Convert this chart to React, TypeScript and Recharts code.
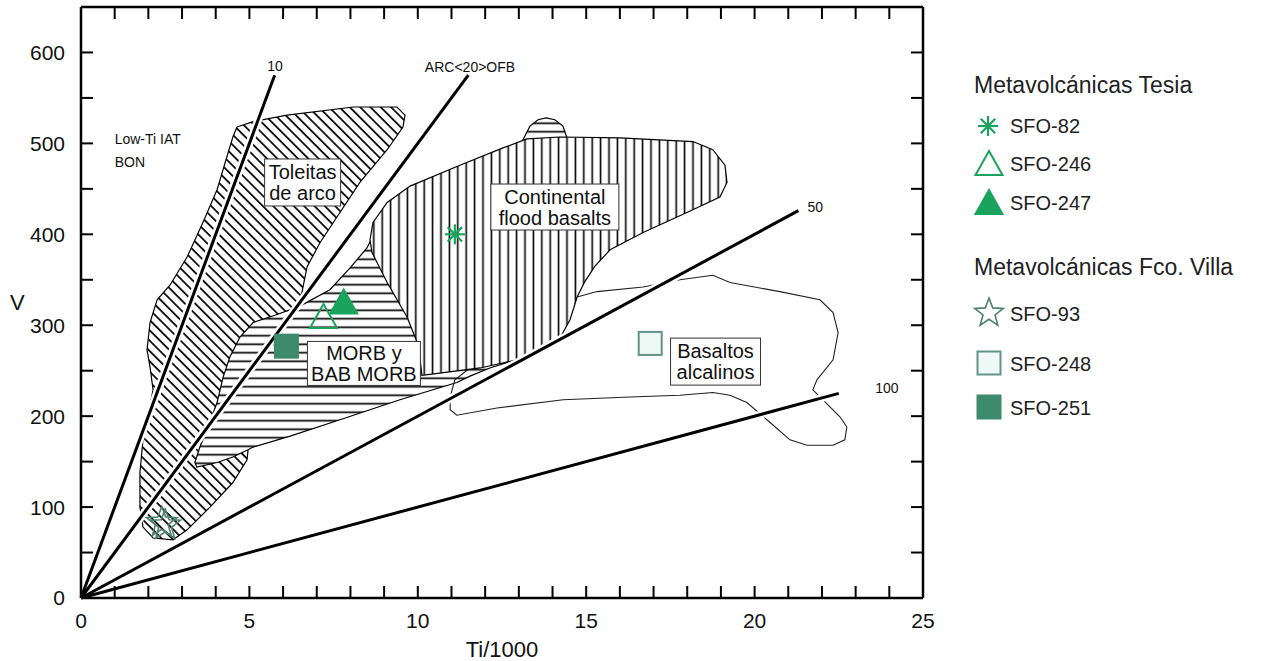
import React from 'react';
import { ScatterChart, Scatter, XAxis, YAxis } from 'recharts';

const FONT = '"Liberation Sans", Arial, Helvetica, sans-serif';

const xTicks = [0, 1, 2, 3, 4, 5, 6, 7, 8, 9, 10, 11, 12, 13, 14, 15, 16, 17, 18, 19, 20, 21, 22, 23, 24, 25];
const yTicks = [0, 50, 100, 150, 200, 250, 300, 350, 400, 450, 500, 550, 600];

// field outlines, Ti/1000 vs V
const toleitasField = [
  { x: 4.63, y: 518 }, { x: 5.11, y: 524 }, { x: 6.12, y: 531 }, { x: 8.08, y: 540 }, { x: 9.38, y: 540 },
  { x: 9.62, y: 531 }, { x: 9.56, y: 518 }, { x: 9.09, y: 493 }, { x: 8.28, y: 457 }, { x: 7.6, y: 419 },
  { x: 7.1, y: 391 }, { x: 6.71, y: 364 }, { x: 6.5, y: 325 }, { x: 5.91, y: 284 }, { x: 5.17, y: 196 },
  { x: 4.96, y: 163 }, { x: 4.93, y: 152 }, { x: 4.51, y: 127 }, { x: 3.83, y: 100 }, { x: 3.15, y: 75 },
  { x: 2.73, y: 64 }, { x: 2.14, y: 66 }, { x: 1.84, y: 78 }, { x: 1.75, y: 100 }, { x: 1.75, y: 138 },
  { x: 1.84, y: 174 }, { x: 2.14, y: 229 }, { x: 2.05, y: 254 }, { x: 1.96, y: 273 }, { x: 2.05, y: 303 },
  { x: 2.26, y: 328 }, { x: 2.64, y: 344 }, { x: 3.15, y: 375 }, { x: 3.62, y: 413 }, { x: 4.04, y: 449 },
  { x: 4.33, y: 485 }, { x: 4.51, y: 507 },
];

const morbField = [
  { x: 5.11, y: 303 }, { x: 5.76, y: 311 }, { x: 6.5, y: 321 }, { x: 7.39, y: 339 }, { x: 7.99, y: 363 },
  { x: 8.49, y: 385 }, { x: 8.64, y: 396 }, { x: 9.32, y: 427 }, { x: 11.25, y: 469 }, { x: 13.03, y: 497 },
  { x: 13.15, y: 506 }, { x: 13.33, y: 519 }, { x: 13.57, y: 526 }, { x: 13.81, y: 528 }, { x: 14.07, y: 526 },
  { x: 14.31, y: 519 }, { x: 14.43, y: 506 }, { x: 14.67, y: 482 }, { x: 14.82, y: 383 }, { x: 13.93, y: 306 },
  { x: 13.33, y: 267 }, { x: 12.14, y: 253 }, { x: 11.55, y: 244 }, { x: 11.16, y: 237 }, { x: 9.47, y: 218 },
  { x: 7.69, y: 196 }, { x: 6.21, y: 178 }, { x: 5.11, y: 166 }, { x: 4.96, y: 163 }, { x: 4.51, y: 155 },
  { x: 4.04, y: 149 }, { x: 3.44, y: 144 }, { x: 3.38, y: 149 }, { x: 3.53, y: 166 }, { x: 3.74, y: 185 },
  { x: 4.04, y: 215 }, { x: 4.22, y: 243 }, { x: 4.42, y: 265 }, { x: 4.72, y: 287 },
];

const cfbField = [
  { x: 8.58, y: 394 }, { x: 8.67, y: 413 }, { x: 9.09, y: 435 }, { x: 9.77, y: 453 }, { x: 11.25, y: 476 },
  { x: 12.53, y: 495 }, { x: 13.24, y: 505 }, { x: 14.22, y: 507 }, { x: 16.0, y: 506 }, { x: 18.17, y: 502 },
  { x: 18.76, y: 493 }, { x: 19.12, y: 476 }, { x: 19.18, y: 457 }, { x: 18.97, y: 441 }, { x: 17.99, y: 424 },
  { x: 16.69, y: 402 }, { x: 15.71, y: 383 }, { x: 15.26, y: 365 }, { x: 14.96, y: 348 }, { x: 14.73, y: 331 },
  { x: 14.52, y: 306 }, { x: 14.22, y: 286 }, { x: 13.84, y: 273 }, { x: 12.95, y: 262 }, { x: 11.85, y: 253 },
  { x: 10.36, y: 246 }, { x: 10.12, y: 245 }, { x: 10.07, y: 262 }, { x: 9.95, y: 284 }, { x: 9.68, y: 309 },
  { x: 9.09, y: 347 }, { x: 8.64, y: 380 },
];

const alcalinosField = [
  { x: 11.55, y: 253 }, { x: 12.74, y: 278 }, { x: 13.93, y: 308 }, { x: 14.73, y: 331 }, { x: 15.32, y: 337 },
  { x: 16.69, y: 342 }, { x: 17.78, y: 350 }, { x: 18.76, y: 355 }, { x: 19.27, y: 347 }, { x: 20.75, y: 337 },
  { x: 21.94, y: 328 }, { x: 22.33, y: 314 }, { x: 22.48, y: 292 }, { x: 22.33, y: 262 }, { x: 21.85, y: 240 },
  { x: 21.73, y: 229 }, { x: 22.03, y: 218 }, { x: 22.54, y: 199 }, { x: 22.74, y: 188 }, { x: 22.68, y: 174 },
  { x: 22.33, y: 168 }, { x: 21.56, y: 168 }, { x: 21.05, y: 174 }, { x: 20.46, y: 193 }, { x: 19.77, y: 215 },
  { x: 19.27, y: 223 }, { x: 18.76, y: 226 }, { x: 17.78, y: 223 }, { x: 16.3, y: 221 }, { x: 14.31, y: 218 },
  { x: 12.35, y: 209 }, { x: 11.16, y: 201 }, { x: 10.96, y: 207 }, { x: 10.96, y: 221 }, { x: 11.1, y: 240 },
];

// Ti/V ratio lines from the origin
const line10 = [{ x: 0, y: 0 }, { x: 5.75, y: 575 }];
const line20 = [{ x: 0, y: 0 }, { x: 11.5, y: 575 }];
const line50 = [{ x: 0, y: 0 }, { x: 21.3, y: 426 }];
const line100 = [{ x: 0, y: 0 }, { x: 22.5, y: 225 }];

// samples
const sfo82 = [{ x: 11.1, y: 400 }];
const sfo246 = [{ x: 7.2, y: 309 }];
const sfo247 = [{ x: 7.8, y: 325 }];
const sfo93 = [{ x: 2.4, y: 83 }, { x: 2.5, y: 80 }];
const sfo248 = [{ x: 16.9, y: 280 }];
const sfo251 = [{ x: 6.1, y: 277 }];

const fieldLabels = [
  { id: 'tol', x: 6.58, y: 457, text: ['Toleitas', 'de arco'] },
  { id: 'cfb', x: 14.07, y: 430, text: ['Continental', 'flood basalts'] },
  { id: 'morb', x: 8.4, y: 258, text: ['MORB y', 'BAB MORB'] },
  { id: 'alk', x: 18.84, y: 260, text: ['Basaltos', 'alcalinos'] },
];

const plainLabels = [
  { x: 5.76, y: 585, text: '10', anchor: 'middle' },
  { x: 11.55, y: 584, text: 'ARC<20>OFB', anchor: 'middle' },
  { x: 21.8, y: 430, text: '50', anchor: 'middle' },
  { x: 23.93, y: 231, text: '100', anchor: 'middle' },
  { x: 1.0, y: 505, text: 'Low-Ti IAT', anchor: 'start' },
  { x: 1.0, y: 480, text: 'BON', anchor: 'start' },
];

const BOX: Record<string, [number, number]> = {
  tol: [76, 47],
  cfb: [128, 46],
  morb: [113, 44],
  alk: [90, 47],
};

const TESIA = '#1aa35c';
const VILLA = '#4d8070';

const NoDot = () => <g />;

const Asterisk = ({ cx, cy, arm = 10 }: any) => {
  const d = arm * 0.72;
  return (
    <g stroke={TESIA} strokeWidth={2.2}>
      <line x1={cx - arm} y1={cy} x2={cx + arm} y2={cy} />
      <line x1={cx} y1={cy - arm} x2={cx} y2={cy + arm} />
      <line x1={cx - d} y1={cy - d} x2={cx + d} y2={cy + d} />
      <line x1={cx - d} y1={cy + d} x2={cx + d} y2={cy - d} />
    </g>
  );
};

const Triangle = ({ cx, cy, filled }: any) => (
  <polygon
    points={`${cx},${cy - 13} ${cx - 13.5},${cy + 11} ${cx + 13.5},${cy + 11}`}
    fill={filled ? TESIA : 'none'}
    stroke={TESIA}
    strokeWidth={2}
  />
);

const Star = ({ cx, cy, outer = 16 }: any) => {
  const pts: string[] = [];
  for (let i = 0; i < 10; i++) {
    const rr = i % 2 === 0 ? outer : outer * 0.42;
    const a = -Math.PI / 2 + (i * Math.PI) / 5;
    pts.push(`${cx + rr * Math.cos(a)},${cy + rr * Math.sin(a)}`);
  }
  return <polygon points={pts.join(' ')} fill="none" stroke={VILLA} strokeWidth={1.6} />;
};

const Square = ({ cx, cy, filled }: any) => (
  <rect
    x={cx - 11.5}
    y={cy - 11.5}
    width={23}
    height={23}
    fill={filled ? '#3e8a6f' : '#eef9f6'}
    stroke={filled ? '#3e8a6f' : '#62948a'}
    strokeWidth={2}
  />
);

const FieldLabel = ({ cx, cy, payload }: any) => {
  const [w, h] = BOX[payload.id];
  return (
    <g>
      <rect x={cx - w / 2} y={cy - h / 2} width={w} height={h} fill="#fff" stroke="#333" strokeWidth={1} />
      {payload.text.map((t: string, i: number) => (
        <text
          key={t}
          x={cx}
          y={cy + (i - 0.5) * 21}
          textAnchor="middle"
          dominantBaseline="central"
          fontFamily={FONT}
          fontSize={20}
          fill="#111"
        >
          {t}
        </text>
      ))}
    </g>
  );
};

const PlainLabel = ({ cx, cy, payload }: any) => (
  <text x={cx} y={cy} textAnchor={payload.anchor} dominantBaseline="central" fontFamily={FONT} fontSize={14} fill="#111">
    {payload.text}
  </text>
);

const Halo = (p: any) => {
  const [a, b] = p.points;
  const t = 0.12;
  return (
    <line
      x1={a.x + (b.x - a.x) * t}
      y1={a.y + (b.y - a.y) * t}
      x2={b.x}
      y2={b.y}
      stroke="#fff"
      strokeWidth={8}
    />
  );
};

const RatioLine = (p: any) => {
  const [a, b] = p.points;
  return <line x1={a.x} y1={a.y} x2={b.x} y2={b.y} stroke="#000" strokeWidth={3} />;
};

const tickFont = { fontFamily: FONT, fontSize: 21, fill: '#111' };

const LegendRow = ({ top, label, children }: any) => (
  <div style={{ position: 'absolute', left: 972, top, height: 32, display: 'flex', alignItems: 'center' }}>
    <svg width={34} height={32} style={{ overflow: 'visible' }}>
      {children}
    </svg>
    <span style={{ marginLeft: 4, fontFamily: FONT, fontSize: 20, color: '#222' }}>{label}</span>
  </div>
);

export default function App() {
  const polyProps = { stroke: '#000', strokeWidth: 1.2 };
  return (
    <div style={{ position: 'absolute', left: 0, top: 0, width: 1277, height: 661, background: '#fff' }}>
      <svg width={0} height={0} style={{ position: 'absolute' }}>
        <defs>
          <pattern id="hDiag" patternUnits="userSpaceOnUse" width={7.3} height={7.3} patternTransform="rotate(-45)">
            <rect width={7.3} height={7.3} fill="#fff" />
            <line x1={3.65} y1={0} x2={3.65} y2={7.3} stroke="#000" strokeWidth={1.7} />
          </pattern>
          <pattern id="hHor" patternUnits="userSpaceOnUse" width={8.5} height={8.5}>
            <rect width={8.5} height={8.5} fill="#fff" />
            <line x1={0} y1={4.25} x2={8.5} y2={4.25} stroke="#000" strokeWidth={1.7} />
          </pattern>
          <pattern id="hVer" patternUnits="userSpaceOnUse" width={8.4} height={8.4}>
            <rect width={8.4} height={8.4} fill="#fff" />
            <line x1={4.2} y1={0} x2={4.2} y2={8.4} stroke="#000" strokeWidth={1.6} />
          </pattern>
        </defs>
      </svg>

      <ScatterChart width={1277} height={661} margin={{ top: 5, right: 352, bottom: 23, left: 5 }}>
        <XAxis
          type="number"
          dataKey="x"
          domain={[0, 25]}
          ticks={xTicks}
          interval={0}
          height={40}
          tickSize={-12}
          tickMargin={27}
          tickFormatter={(v: number) => (v % 5 === 0 ? String(v) : '')}
          tick={tickFont}
          axisLine={{ stroke: '#000', strokeWidth: 2.5 }}
          tickLine={{ stroke: '#000', strokeWidth: 2 }}
          label={{ value: 'Ti/1000', position: 'bottom', offset: 3, style: { fontFamily: FONT, fontSize: 22, fill: '#111' } }}
        />
        <XAxis
          xAxisId="top"
          orientation="top"
          type="number"
          dataKey="x"
          domain={[0, 25]}
          ticks={xTicks}
          interval={0}
          height={2}
          tickSize={-12}
          tickFormatter={() => ''}
          axisLine={{ stroke: '#000', strokeWidth: 2.5 }}
          tickLine={{ stroke: '#000', strokeWidth: 2 }}
        />
        <YAxis
          type="number"
          dataKey="y"
          domain={[0, 650]}
          ticks={yTicks}
          interval={0}
          width={76}
          tickSize={-12}
          tickMargin={28}
          tickFormatter={(v: number) => (v % 100 === 0 ? String(v) : '')}
          tick={tickFont}
          axisLine={{ stroke: '#000', strokeWidth: 2.5 }}
          tickLine={{ stroke: '#000', strokeWidth: 2 }}
          label={{ value: 'V', position: 'insideLeft', offset: 5, style: { fontFamily: FONT, fontSize: 22, fill: '#111' } }}
        />
        <YAxis
          yAxisId="right"
          orientation="right"
          type="number"
          dataKey="y"
          domain={[0, 650]}
          ticks={yTicks}
          interval={0}
          width={2}
          tickSize={-12}
          tickFormatter={() => ''}
          axisLine={{ stroke: '#000', strokeWidth: 2.5 }}
          tickLine={{ stroke: '#000', strokeWidth: 2 }}
        />

        <Scatter data={toleitasField} line={{ ...polyProps, fill: 'url(#hDiag)' }} lineJointType="linearClosed" shape={NoDot} isAnimationActive={false} />
        <Scatter data={morbField} line={{ ...polyProps, fill: 'url(#hHor)' }} lineJointType="linearClosed" shape={NoDot} isAnimationActive={false} />
        <Scatter data={alcalinosField} line={{ stroke: '#222', strokeWidth: 1.1, fill: 'none' }} lineJointType="linearClosed" shape={NoDot} isAnimationActive={false} />
        <Scatter data={cfbField} line={{ ...polyProps, fill: 'url(#hVer)' }} lineJointType="linearClosed" shape={NoDot} isAnimationActive={false} />

        <Scatter data={line10} line={Halo} shape={NoDot} isAnimationActive={false} />
        <Scatter data={line20} line={Halo} shape={NoDot} isAnimationActive={false} />
        <Scatter data={line50} line={Halo} shape={NoDot} isAnimationActive={false} />
        <Scatter data={line100} line={Halo} shape={NoDot} isAnimationActive={false} />
        <Scatter data={line10} line={RatioLine} shape={NoDot} isAnimationActive={false} />
        <Scatter data={line20} line={RatioLine} shape={NoDot} isAnimationActive={false} />
        <Scatter data={line50} line={RatioLine} shape={NoDot} isAnimationActive={false} />
        <Scatter data={line100} line={RatioLine} shape={NoDot} isAnimationActive={false} />

        <Scatter xAxisId="top" yAxisId="right" data={fieldLabels} shape={FieldLabel} isAnimationActive={false} />
        <Scatter xAxisId="top" yAxisId="right" data={plainLabels} shape={PlainLabel} isAnimationActive={false} />

        <Scatter name="SFO-82" data={sfo82} shape={(p: any) => <Asterisk cx={p.cx} cy={p.cy} />} isAnimationActive={false} />
        <Scatter name="SFO-246" data={sfo246} shape={(p: any) => <Triangle cx={p.cx} cy={p.cy} />} isAnimationActive={false} />
        <Scatter name="SFO-247" data={sfo247} shape={(p: any) => <Triangle cx={p.cx} cy={p.cy} filled />} isAnimationActive={false} />
        <Scatter name="SFO-93" data={sfo93} shape={(p: any) => <Star cx={p.cx} cy={p.cy} />} isAnimationActive={false} />
        <Scatter name="SFO-248" data={sfo248} shape={(p: any) => <Square cx={p.cx} cy={p.cy} />} isAnimationActive={false} />
        <Scatter name="SFO-251" data={sfo251} shape={(p: any) => <Square cx={p.cx} cy={p.cy} filled />} isAnimationActive={false} />
      </ScatterChart>

      <div style={{ position: 'absolute', left: 974, top: 72, fontFamily: FONT, fontSize: 23, color: '#222', whiteSpace: 'nowrap' }}>
        Metavolcánicas Tesia
      </div>
      <LegendRow top={110} label="SFO-82">
        <Asterisk cx={16} cy={16} arm={10} />
      </LegendRow>
      <LegendRow top={148} label="SFO-246">
        <Triangle cx={17} cy={16} />
      </LegendRow>
      <LegendRow top={187} label="SFO-247">
        <Triangle cx={17} cy={16} filled />
      </LegendRow>
      <div style={{ position: 'absolute', left: 974, top: 254, fontFamily: FONT, fontSize: 23, color: '#222', whiteSpace: 'nowrap' }}>
        Metavolcánicas Fco. Villa
      </div>
      <LegendRow top={298} label="SFO-93">
        <Star cx={17} cy={15} outer={15} />
      </LegendRow>
      <LegendRow top={348} label="SFO-248">
        <Square cx={17} cy={15} />
      </LegendRow>
      <LegendRow top={392} label="SFO-251">
        <Square cx={17} cy={15} filled />
      </LegendRow>
    </div>
  );
}
